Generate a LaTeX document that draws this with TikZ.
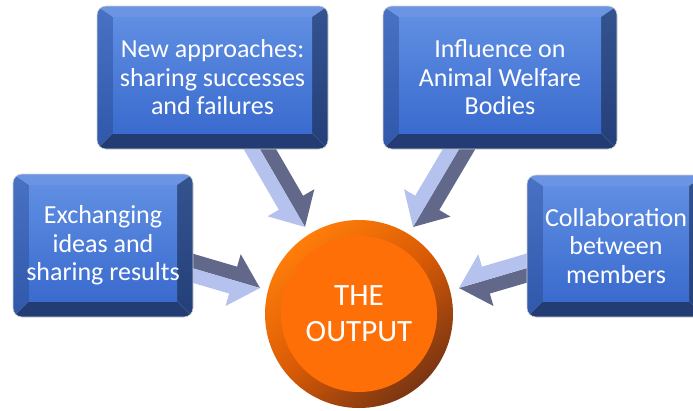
\documentclass[tikz,border=0pt]{standalone}
\usepackage{fontspec}
\setmainfont{Carlito}
\usetikzlibrary{calc}
\definecolor{faceTop}{HTML}{5F8EE2}
\definecolor{faceBot}{HTML}{3A6BCE}
\definecolor{bevTop}{HTML}{6B94E2}
\definecolor{bevLeftA}{HTML}{4A72C4}
\definecolor{bevLeftB}{HTML}{2F58AA}
\definecolor{bevRightA}{HTML}{34548F}
\definecolor{bevRightB}{HTML}{243F7A}
\definecolor{bevBot}{HTML}{233D74}
\definecolor{arrDark}{HTML}{62688A}
\definecolor{arrLight}{HTML}{B6C2EE}
\definecolor{ringA}{HTML}{FF7D0A}
\definecolor{ringM}{HTML}{D85A05}
\definecolor{ringB}{HTML}{7A3512}
\definecolor{disc}{HTML}{FF6F08}
\tikzset{
  boxtext/.style={text=white, align=center, inner sep=0pt,
    font=\fontsize{26}{28.5}\selectfont},
  outtext/.style={circle, fill=disc, minimum size=156pt, inner sep=0pt,
    text=white, align=center, font=\fontsize{31}{36}\selectfont},
  boxrim/.style={draw=gray!35, line width=0.6pt, rounded corners=9pt}
}
\newcommand\mybevel[6]{%
  \begin{scope}
    \clip[rounded corners=9pt] (#2,#3) rectangle (#4,#5);
    \fill[bevTop] (#2,#3) -- (#4,#3) -- (#4-16,#3+11) -- (#2+16,#3+11) -- cycle;
    \shade[top color=bevLeftA, bottom color=bevLeftB]
      (#2,#3) -- (#2+16,#3+11) -- (#2+16,#5-16) -- (#2,#5) -- cycle;
    \shade[top color=bevRightA, bottom color=bevRightB]
      (#4,#3) -- (#4,#5) -- (#4-16,#5-16) -- (#4-16,#3+11) -- cycle;
    \fill[bevBot] (#2,#5) -- (#4,#5) -- (#4-16,#5-16) -- (#2+16,#5-16) -- cycle;
    \shade[top color=faceTop, bottom color=faceBot]
      (#2+16,#3+11) rectangle (#4-16,#5-16);
  \end{scope}
  \draw[boxrim] (#2,#3) rectangle (#4,#5);
  \node[boxtext] (#1) at ($(#2,#3)!0.5!(#4,#5)$) {#6};
}
\newcommand\blockarrow[2]{%
  \coordinate (hb) at ($(#2)!28pt!(#1)$);
  \fill[arrDark] (#1) -- ($(#1)!14pt!90:(#2)$) -- ($(hb)!14pt!90:(#2)$)
    -- ($(hb)!27pt!90:(#2)$) -- (#2) -- cycle;
  \fill[arrLight] (#1) -- ($(#1)!14pt!-90:(#2)$) -- ($(hb)!14pt!-90:(#2)$)
    -- ($(hb)!27pt!-90:(#2)$) -- (#2) -- cycle;
}
\begin{document}
\begin{tikzpicture}[x=1pt, y=-1pt]
\useasboundingbox (0,0) rectangle (693,410);
\fill[white] (0,0) rectangle (693,410);
% arrow coordinates
\coordinate (la) at (180,264.5);
\coordinate (lt) at (260,288);
\coordinate (ra) at (539,264.5);
\coordinate (rt) at (459,288);
\coordinate (tla) at (254,139);
\coordinate (tlt) at (305,227);
\coordinate (tra) at (465,139);
\coordinate (trt) at (413,227);
\blockarrow{la}{lt}
\blockarrow{ra}{rt}
\blockarrow{tla}{tlt}
\blockarrow{tra}{trt}
% boxes
\mybevel{exch}{13}{174}{193}{317}{Exchanging\\ideas and\\sharing results}
\mybevel{newap}{97}{6}{328}{149}{New approaches:\\sharing successes\\and failures}
\mybevel{infl}{383}{6}{617}{149}{Influence on\\Animal Welfare\\Bodies}
\mybevel{collab}{527}{175}{705}{317}{Collaboration\\between\\members}
% central circle
\shade[top color=ringA, bottom color=ringB, middle color=ringM, shading angle=40]
  (359,314) circle (94pt);
\node[outtext] (out) at (359,314) {THE\\OUTPUT};
\end{tikzpicture}
\end{document}
